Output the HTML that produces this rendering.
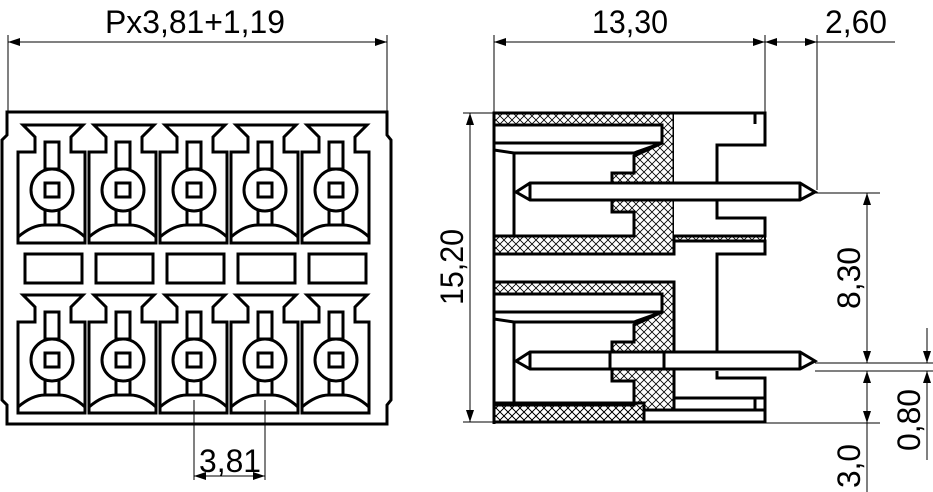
<!DOCTYPE html>
<html><head><meta charset="utf-8"><style>html,body{margin:0;padding:0;background:#fff}svg{display:block}</style></head>
<body>
<svg width="933" height="492" viewBox="0 0 933 492" xmlns="http://www.w3.org/2000/svg" font-family="Liberation Sans, sans-serif">
<defs>
<pattern id="h" width="8" height="8" patternUnits="userSpaceOnUse">
<path d="M0,0 L8,8 M8,0 L0,8" stroke="#000" stroke-width="0.8"/>
</pattern>
<marker id="a" viewBox="0 0 12 8" refX="12" refY="4" markerWidth="12" markerHeight="8" orient="auto-start-reverse" markerUnits="userSpaceOnUse">
<path d="M0,0 L12,4 L0,8 Z" fill="#000"/>
</marker>
<g id="cell" fill="none" stroke="#000" stroke-width="3">
<path d="M-29,0 H31 L19,12 V27 H33 V118 H-34 V27 H-17 V12 Z"/>
<rect x="-7" y="17" width="14" height="27"/>
<circle cx="0" cy="65" r="21" fill="#fff"/>
<rect x="-7" y="58" width="14" height="14"/>
<path d="M-7,86 V100 M7,86 V100"/>
<path d="M-34,112 Q-20,100 -7,100 H7 Q20,100 33,112"/>
</g>
</defs>
<rect width="933" height="492" fill="#fff"/>

<!-- LEFT VIEW -->
<path d="M7,112 H387 V135 L391,140 V400 L387,405 V424 H7 V405 L2,400 V140 L7,135 Z" fill="none" stroke="#000" stroke-width="3"/>
<g>
<use href="#cell" x="52" y="125"/><use href="#cell" x="123" y="125"/><use href="#cell" x="194" y="125"/><use href="#cell" x="265" y="125"/><use href="#cell" x="336" y="125"/>
<use href="#cell" x="52" y="295"/><use href="#cell" x="123" y="295"/><use href="#cell" x="194" y="295"/><use href="#cell" x="265" y="295"/><use href="#cell" x="336" y="295"/>
</g>
<g fill="none" stroke="#000" stroke-width="3">
<rect x="25" y="254" width="57" height="29"/><rect x="96" y="254" width="57" height="29"/><rect x="167" y="254" width="57" height="29"/><rect x="238" y="254" width="57" height="29"/><rect x="309" y="254" width="57" height="29"/>
</g>

<g stroke="#000" stroke-width="1" fill="none">
<line x1="8" y1="35" x2="8" y2="112"/><line x1="387" y1="35" x2="387" y2="112"/>
<line x1="8" y1="42" x2="387" y2="42" marker-start="url(#a)" marker-end="url(#a)"/>
<line x1="494" y1="35" x2="494" y2="112"/><line x1="765" y1="35" x2="765" y2="112"/><line x1="817" y1="35" x2="817" y2="190"/>
<line x1="494" y1="42" x2="765" y2="42" marker-start="url(#a)" marker-end="url(#a)"/>
<line x1="765" y1="42" x2="817" y2="42" marker-start="url(#a)" marker-end="url(#a)"/>
<line x1="817" y1="42" x2="895" y2="42"/>
<line x1="194" y1="400" x2="194" y2="480"/><line x1="265" y1="400" x2="265" y2="480"/>
<line x1="194" y1="476" x2="265" y2="476" marker-start="url(#a)" marker-end="url(#a)"/>
<line x1="463" y1="113" x2="494" y2="113"/><line x1="463" y1="422" x2="494" y2="422"/>
<line x1="470" y1="113" x2="470" y2="422" marker-start="url(#a)" marker-end="url(#a)"/>
<line x1="815" y1="193" x2="880" y2="193"/><line x1="815" y1="363" x2="933" y2="363"/><line x1="815" y1="371" x2="933" y2="371"/><line x1="765" y1="423" x2="880" y2="423"/>
<line x1="867" y1="193" x2="867" y2="363" marker-start="url(#a)" marker-end="url(#a)"/>
<line x1="867" y1="371" x2="867" y2="423" marker-start="url(#a)" marker-end="url(#a)"/>
<line x1="867" y1="423" x2="867" y2="492"/>
<line x1="927" y1="328" x2="927" y2="363" marker-end="url(#a)"/>
<line x1="927" y1="460" x2="927" y2="371" marker-end="url(#a)"/>
</g>
<g font-size="32" fill="#000">
<text x="195" y="33" text-anchor="middle" textLength="180" lengthAdjust="spacingAndGlyphs">Px3,81+1,19</text>
<text x="630" y="33" text-anchor="middle" textLength="76" lengthAdjust="spacingAndGlyphs">13,30</text>
<text x="856" y="33" text-anchor="middle" textLength="62" lengthAdjust="spacingAndGlyphs">2,60</text>
<text x="230" y="472" text-anchor="middle" textLength="62" lengthAdjust="spacingAndGlyphs">3,81</text>
<text transform="translate(463,267) rotate(-90)" text-anchor="middle" textLength="76" lengthAdjust="spacingAndGlyphs">15,20</text>
<text transform="translate(860,278) rotate(-90)" text-anchor="middle" textLength="62" lengthAdjust="spacingAndGlyphs">8,30</text>
<text transform="translate(920,420) rotate(-90)" text-anchor="middle" textLength="62" lengthAdjust="spacingAndGlyphs">0,80</text>
<text transform="translate(860,466) rotate(-90)" text-anchor="middle" textLength="44" lengthAdjust="spacingAndGlyphs">3,0</text>
</g>

<g stroke="#000" stroke-width="3" stroke-linejoin="miter">
<path d="M494,113 H674 V254 H494 V236 H634 V212 H612 V173 H634 V156 L662,143 V125 H494 Z" fill="url(#h)"/>
<rect x="494" y="125" width="168" height="18" fill="#fff"/>
<path d="M494,150 L514,153 H634 L662,143" fill="none"/>
<path d="M514,153 V236" fill="none"/>
<path d="M494,282 H674 V422 H494 V405 H634 V381 H612 V342 H634 V325 L662,312 V294 H494 Z" fill="url(#h)"/>
<rect x="494" y="294" width="168" height="18" fill="#fff"/>
<path d="M494,319 L514,322 H634 L662,312" fill="none"/>
<path d="M514,322 V405" fill="none"/>
<rect x="644" y="410" width="121" height="12" fill="#fff"/>
<rect x="494" y="403" width="150" height="19" fill="url(#h)"/>
<path d="M674,113 H765 V145 H717 V218 H765 V236 H674" fill="#fff"/>
<rect x="674" y="236" width="91" height="5" fill="url(#h)" stroke-width="2"/>
<path d="M674,241 H765 V254 H717 V352 M717,371 V378 H765 V410" fill="none"/>
<rect x="674" y="398" width="91" height="12" fill="#fff"/>
<path d="M755,113 V124 M755,398 V410" fill="none"/>
<line x1="494" y1="112" x2="494" y2="424"/>
<path d="M530,183 H800 L815,192 L800,200 H530 L516,192 Z" fill="#fff"/>
<path d="M530,183 V200 M800,183 V200" fill="none"/>
<path d="M530,352 H800 L815,361 L800,369 H530 L516,361 Z" fill="#fff"/>
<path d="M530,352 V369 M800,352 V369 M610,352 V369 M664,352 V369" fill="none"/>
</g>
</svg>
</body></html>
